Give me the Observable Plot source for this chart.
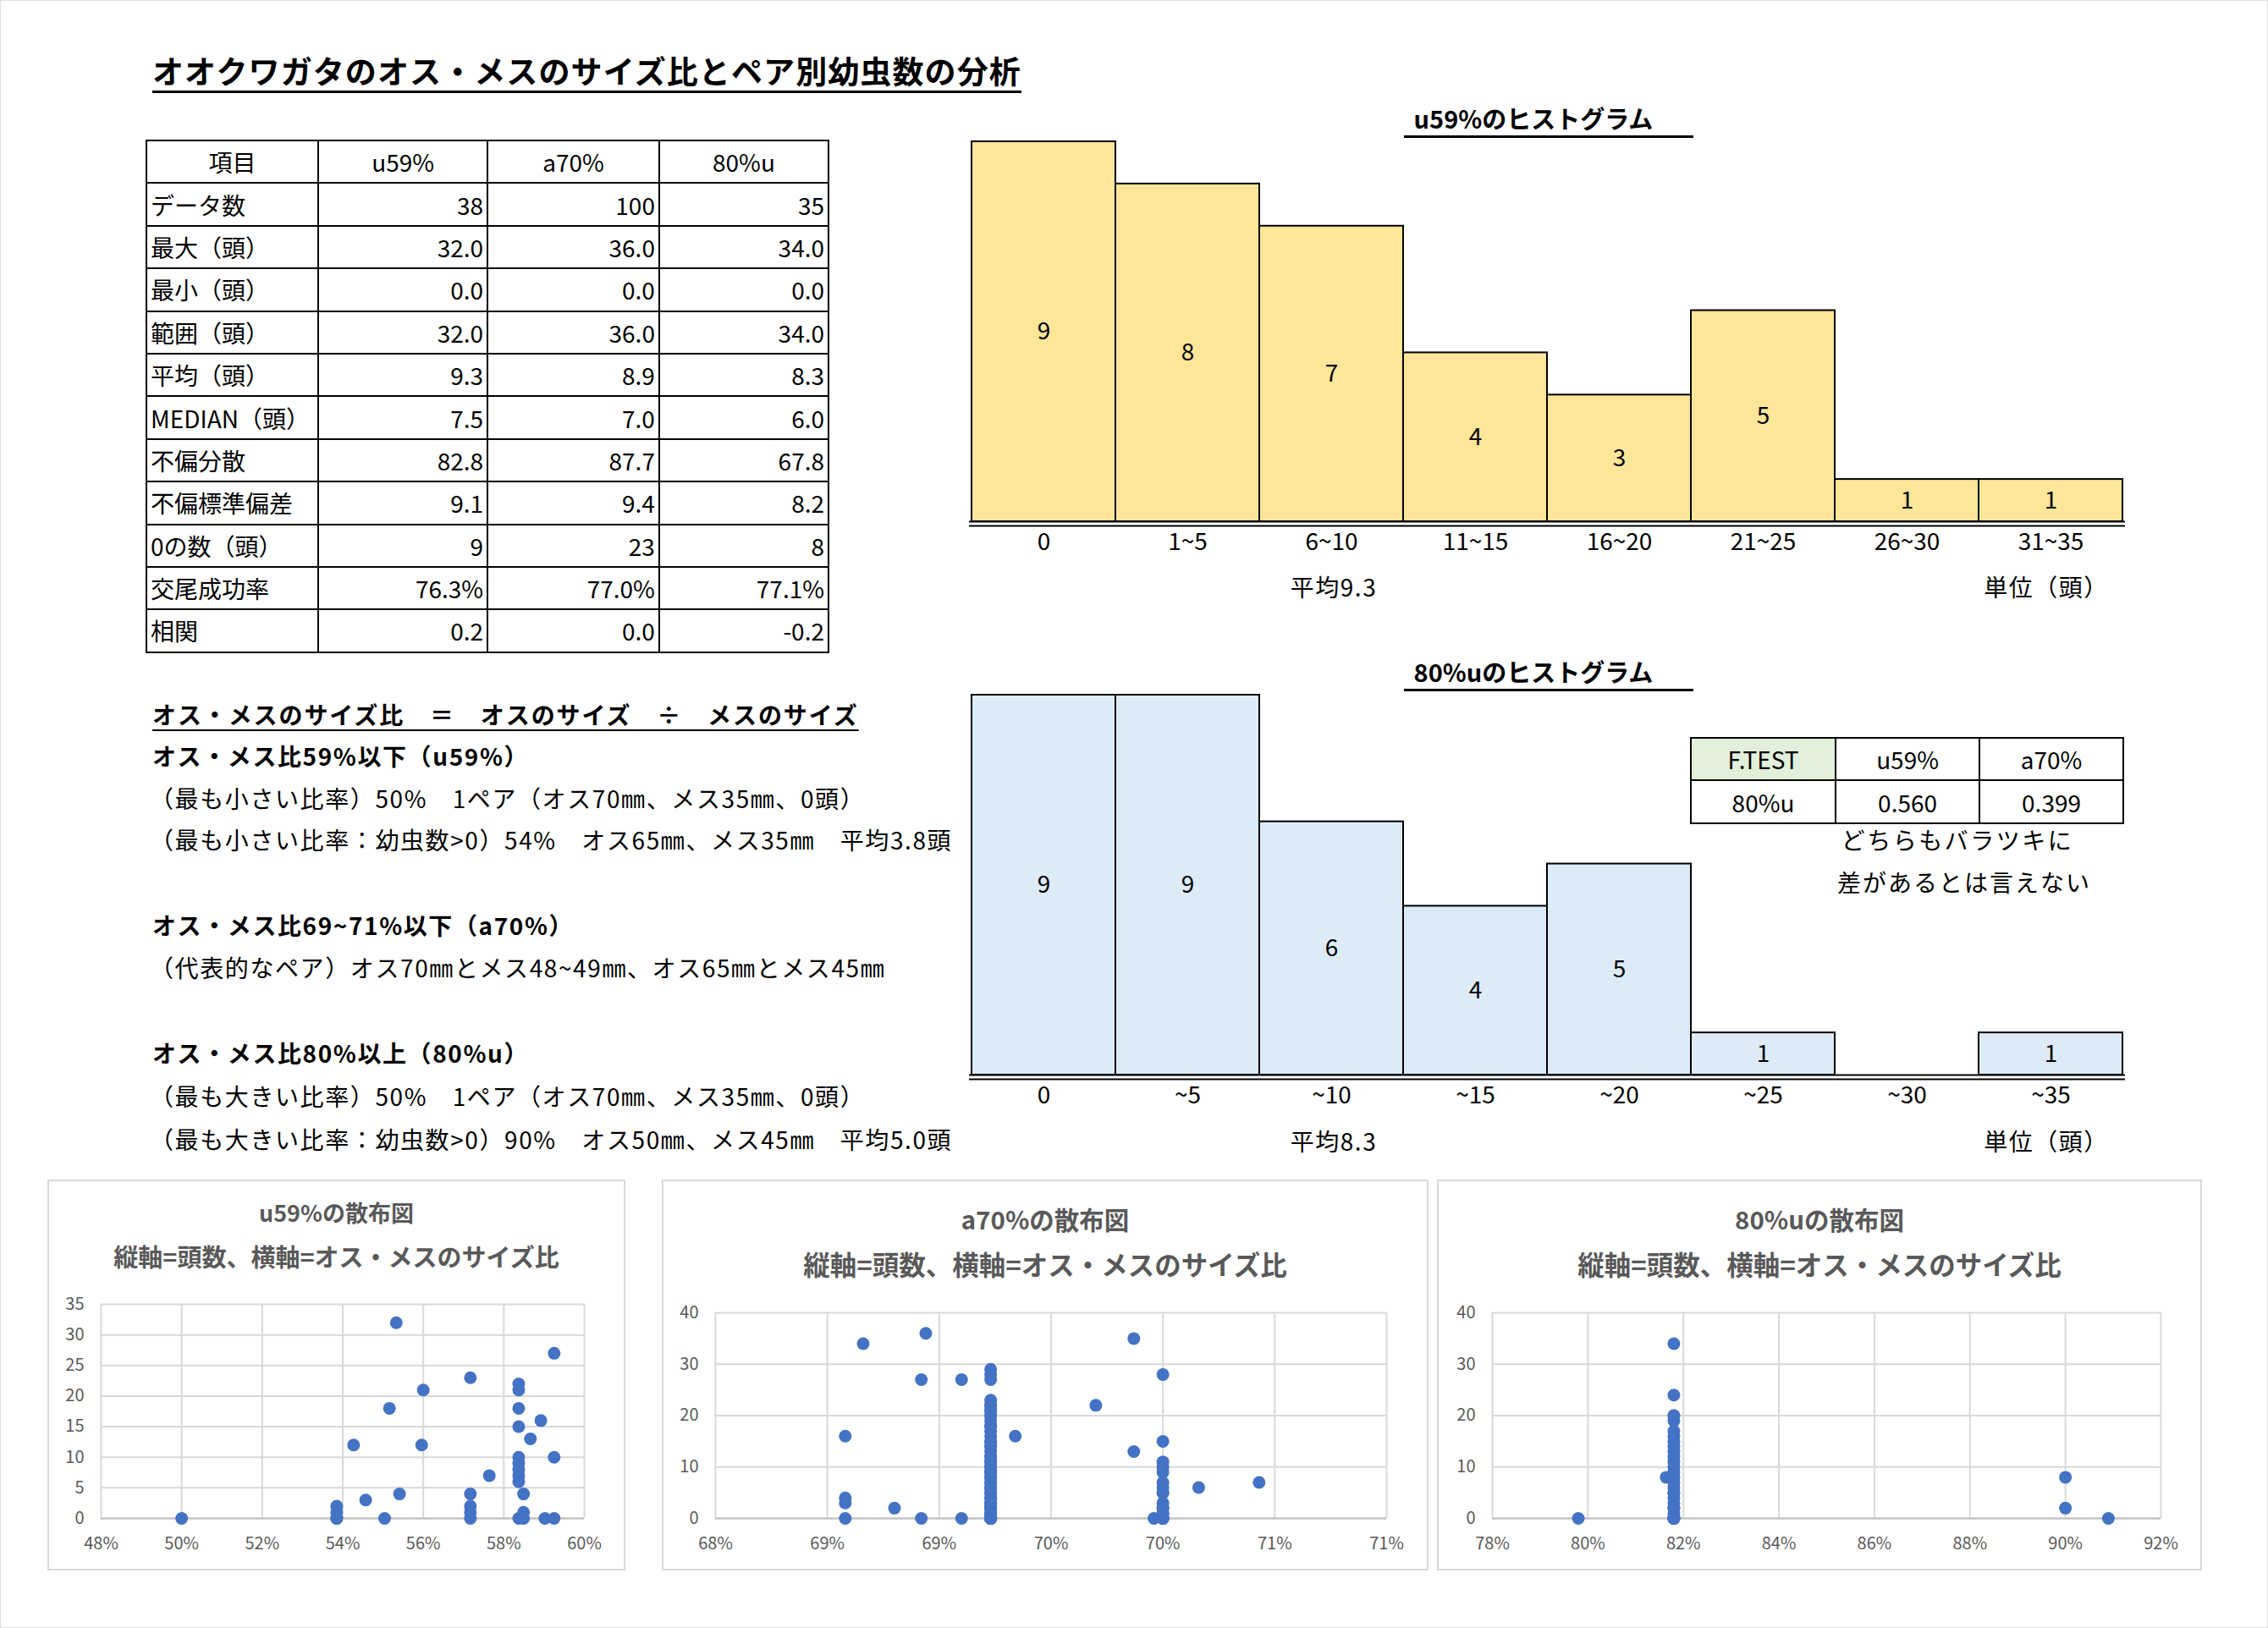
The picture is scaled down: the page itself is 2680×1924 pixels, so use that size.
<!DOCTYPE html>
<html><head><meta charset="utf-8">
<script src="https://cdn.jsdelivr.net/npm/d3@7"></script>
<script src="https://cdn.jsdelivr.net/npm/@observablehq/plot@0.6"></script>
<style>
body{margin:0;background:#fff;}
#page{position:relative;width:2678px;height:1922px;border:1px solid #e0e0e0;font-family:"Noto Sans CJK JP","Noto Sans",sans-serif;color:#000;overflow:hidden;}
.abs{position:absolute;white-space:nowrap;}
.line{height:50px;line-height:50px;font-size:28px;letter-spacing:1.6px;}
.bold{font-weight:bold;}
table.stats{position:absolute;border-collapse:collapse;font-size:28px;}
table.stats td{border:2px solid #000;height:48.4px;padding:0 4px;line-height:48px;}
.box{position:absolute;border:2px solid #d9d9d9;box-sizing:border-box;}
.stitle{position:absolute;font-weight:bold;color:#595959;text-align:center;width:700px;height:44px;line-height:44px;}
.plot{position:absolute;}
</style></head>
<body><div id="page"></div>
<script>
const FONT = '"Noto Sans CJK JP","Noto Sans",sans-serif';

// ---- data ----
const mainTitle = "オオクワガタのオス・メスのサイズ比とペア別幼虫数の分析";
const tableHeader = ["項目", "u59%", "a70%", "80%u"];
const tableRowLabels = ["データ数","最大（頭）","最小（頭）","範囲（頭）","平均（頭）","MEDIAN（頭）","不偏分散","不偏標準偏差","0の数（頭）","交尾成功率","相関"];
const tableU59 = ["38","32.0","0.0","32.0","9.3","7.5","82.8","9.1","9","76.3%","0.2"];
const tableA70 = ["100","36.0","0.0","36.0","8.9","7.0","87.7","9.4","23","77.0%","0.0"];
const table80u = ["35","34.0","0.0","34.0","8.3","6.0","67.8","8.2","8","77.1%","-0.2"];

const notes = [
  ["オス・メスのサイズ比　＝　オスのサイズ　÷　メスのサイズ", "bu"],
  ["オス・メス比59%以下（u59%）", "b"],
  ["（最も小さい比率）50%　1ペア（オス70㎜、メス35㎜、0頭）", ""],
  ["（最も小さい比率：幼虫数>0）54%　オス65㎜、メス35㎜　平均3.8頭", ""],
  ["オス・メス比69~71%以下（a70%）", "b"],
  ["（代表的なペア）オス70㎜とメス48~49㎜、オス65㎜とメス45㎜", ""],
  ["オス・メス比80%以上（80%u）", "b"],
  ["（最も大きい比率）50%　1ペア（オス70㎜、メス35㎜、0頭）", ""],
  ["（最も大きい比率：幼虫数>0）90%　オス50㎜、メス45㎜　平均5.0頭", ""]
];
const noteCenters = [843, 892, 942, 991, 1092, 1142, 1243, 1294, 1345];

const histU59Cats = ["0","1~5","6~10","11~15","16~20","21~25","26~30","31~35"];
const histU59Counts = [9,8,7,4,3,5,1,1];
const hist80uCats = ["0","~5","~10","~15","~20","~25","~30","~35"];
const hist80uCounts = [9,9,6,4,5,1,0,1];

const fTestHeader = ["F.TEST","u59%","a70%"];
const fTestRow = ["80%u","0.560","0.399"];

// scatter: ratio groups and larvae counts at each ratio
const u59Ratios = [0.500,0.5385,0.5427,0.5457,0.5504,0.5516,0.5533,0.5541,0.5596,0.5600,0.5717,0.5764,0.5837,0.5849,0.5866,0.5892,0.5902,0.5925];
const u59Larvae = [[0],[2,1,0,0],[12],[3],[0],[18],[32],[4],[12],[21],[23,4,2,1,0],[7],[22,21,18,15,10,9,8,7,6,0],[4,1,0],[13],[16],[0],[27,10,0]];

const a70Ratios = [0.6908,0.6916,0.6930,0.6942,0.6944,0.6960,0.6973,0.6984,0.7020,0.7037,0.7046,0.7050,0.7066,0.7093];
const a70Larvae = [[16,4,3,0],[34],[2],[27,0],[36],[27,0],
  [29,28,27,23,22,21,20,19,18,17,16,15,14,13,12,11,10,9,8,7,6,5,4,3,2,1,0,0,0,0,0,0,0,0,0,0,0,0,0,0,1,1,2,2,3,4,5,6,7,8,9,10,11,12,14,15,18,20,21,22,3,6,9],
  [16],[22],[35,13],[0],[28,15,11,10,9,7,6,5,3,2,1,0,0,0,0,0,1,2,5],[6],[7]];

const r80Ratios = [0.798,0.8164,0.8180,0.900,0.909];
const r80Larvae = [[0],[8],[34,24,20,19,17,16,14,13,10,9,8,7,6,5,4,3,2,1,0,0,0,0,0,0,12,11,15,20,5,2],[8,2],[0]];

const u59XTicks = [0.48,0.50,0.52,0.54,0.56,0.58,0.60];
const u59XLabels = ["48%","50%","52%","54%","56%","58%","60%"];
const a70XTicks = [0.685,0.690,0.695,0.700,0.705,0.710,0.715];
const a70XLabels = ["68%","69%","69%","70%","70%","71%","71%"];
const r80XTicks = [0.78,0.80,0.82,0.84,0.86,0.88,0.90,0.92];
const r80XLabels = ["78%","80%","82%","84%","86%","88%","90%","92%"];
const yTicks35 = [0,5,10,15,20,25,30,35];
const yTicks40 = [0,10,20,30,40];

const scatterTitles = ["u59%の散布図","a70%の散布図","80%uの散布図"];
const scatterSub = "縦軸=頭数、横軸=オス・メスのサイズ比";

// ---- helpers ----
const page = document.getElementById("page");
function addDiv(cls, text, css) {
  const d = document.createElement("div");
  d.className = cls; d.textContent = text;
  Object.assign(d.style, css);
  page.appendChild(d); return d;
}
function place(node, left, top) {
  node.classList.add("plot");
  node.style.left = left + "px"; node.style.top = top + "px";
  page.appendChild(node);
}

// title
addDiv("abs bold", mainTitle, {left:"179px", top:"57px", fontSize:"37px", letterSpacing:"1.1px", lineHeight:"50px", textDecoration:"underline", textUnderlineOffset:"8px", textDecorationThickness:"3px"});

// stats table
const tbl = document.createElement("table");
tbl.className = "stats";
Object.assign(tbl.style, {left:"171px", top:"164px", width:"808px"});
const colW = [202, 201, 204, 201];
{
  const tr = tbl.insertRow();
  tableHeader.forEach((h, i) => { const td = tr.insertCell(); td.textContent = h; td.style.textAlign = "center"; td.style.width = colW[i] + "px"; });
  tableRowLabels.forEach((lab, r) => {
    const row = tbl.insertRow();
    [lab, tableU59[r], tableA70[r], table80u[r]].forEach((v, i) => {
      const td = row.insertCell(); td.textContent = v; td.style.textAlign = i === 0 ? "left" : "right";
    });
  });
}
page.appendChild(tbl);

// notes
notes.forEach(([t, s], i) => {
  const css = {left: (s.includes("b") ? 179 : 176) + "px", top: (noteCenters[i] - 25) + "px"};
  if (s.includes("u")) Object.assign(css, {textDecoration:"underline", textUnderlineOffset:"6px", textDecorationThickness:"2px", letterSpacing:"1.9px"});
  addDiv("abs line" + (s.includes("b") ? " bold" : ""), t, css);
});

// histograms
function hist(cats, counts, fill) {
  const data = cats.map((c, i) => ({c, n: counts[i]}));
  return Plot.plot({
    width: 1368, height: 505, marginLeft: 1, marginRight: 1, marginTop: 6, marginBottom: 50,
    x: {domain: cats, padding: 0, label: null, tickSize: 0, tickPadding: 14},
    y: {domain: [0, 9], axis: null},
    style: {fontFamily: FONT, fontSize: "28px", color: "#000", background: "transparent", overflow: "visible"},
    marks: [
      Plot.barY(data, {x: "c", y: "n", fill, stroke: "#000", strokeWidth: 2}),
      Plot.text(data.filter(d => d.n > 0), {x: "c", y: d => d.n / 2, text: d => String(d.n), fontSize: 28, fill: "#000"}),
      Plot.ruleY([0], {stroke: "#000", strokeWidth: 2}),
      Plot.ruleY([0], {stroke: "#000", strokeWidth: 2, dy: 5})
    ]
  });
}
function histTitle(text, top) {
  addDiv("abs bold", text, {left:"1658px", top: top + "px", width:"342px", height:"48px", lineHeight:"48px", fontSize:"29px", textAlign:"center", borderBottom:"3px solid #000", paddingRight:"36px", boxSizing:"border-box"});
}
const smallCss = {width:"220px", textAlign:"center", fontSize:"28px", letterSpacing:"1.5px", lineHeight:"40px"};
histTitle("u59%のヒストグラム", 114);
place(hist(histU59Cats, histU59Counts, "#FFE699"), 1143, 160);
addDiv("abs", "平均9.3", Object.assign({left:"1465px", top:"672px"}, smallCss));
addDiv("abs", "単位（頭）", Object.assign({left:"2307px", top:"672px"}, smallCss));

histTitle("80%uのヒストグラム", 768);
place(hist(hist80uCats, hist80uCounts, "#DDEBF7"), 1143, 814);
addDiv("abs", "平均8.3", Object.assign({left:"1465px", top:"1327px"}, smallCss));
addDiv("abs", "単位（頭）", Object.assign({left:"2307px", top:"1327px"}, smallCss));

// F.TEST table
const ft = document.createElement("table");
ft.className = "stats";
Object.assign(ft.style, {left:"1996px", top:"870px", width:"513px", background:"#fff"});
[fTestHeader, fTestRow].forEach((row, r) => {
  const tr = ft.insertRow();
  row.forEach((v, i) => { const td = tr.insertCell(); td.textContent = v; td.style.textAlign = "center"; td.style.width = "170px"; if (r === 0 && i === 0) td.style.background = "#E2EFDA"; });
});
page.appendChild(ft);
addDiv("abs", "どちらもバラツキに", {left:"2112px", width:"400px", textAlign:"center", top:"971px", fontSize:"28px", letterSpacing:"2.5px", lineHeight:"40px"});
addDiv("abs", "差があるとは言えない", {left:"2120px", width:"400px", textAlign:"center", top:"1021px", fontSize:"28px", letterSpacing:"2px", lineHeight:"40px"});

// scatters
function flatten(ratios, larvae) {
  return ratios.flatMap((r, i) => larvae[i].map(n => ({r, n})));
}
function scatter(data, o) {
  return Plot.plot({
    width: o.width, height: o.height, marginLeft: o.ml, marginRight: o.mr, marginTop: 20, marginBottom: o.height - 20 - o.ph,
    x: {domain: [o.xTicks[0], o.xTicks[o.xTicks.length - 1]]},
    y: {domain: [0, o.yTicks[o.yTicks.length - 1]]},
    style: {fontFamily: FONT, fontSize: "20px", color: "#595959", background: "transparent", overflow: "visible"},
    marks: [
      Plot.gridX(o.xTicks, {stroke: "#d9d9d9", strokeOpacity: 1, strokeWidth: 2}),
      Plot.gridY(o.yTicks, {stroke: "#d9d9d9", strokeOpacity: 1, strokeWidth: 2}),
      Plot.ruleY([0], {stroke: "#bfbfbf", strokeWidth: 2}),
      Plot.axisX(o.xTicks, {tickSize: 0, tickPadding: 22, label: null, tickFormat: d => o.xLabels[o.xTicks.indexOf(d)], fill: "#595959"}),
      Plot.axisY(o.yTicks, {tickSize: 0, tickPadding: 20, label: null, fill: "#595959"}),
      Plot.dot(data, {x: "r", y: "n", r: 7.5, fill: "#4472C4", stroke: "none"})
    ]
  });
}
const boxes = [[55, 738], [781, 1687], [1697, 2601]];
const titleSizes = [[27, 29], [29.5, 31.5], [29.5, 31.5]];
boxes.forEach(([l, r], i) => {
  const b = document.createElement("div"); b.className = "box";
  Object.assign(b.style, {left: l + "px", top: "1393px", width: (r - l) + "px", height: "462px"});
  page.appendChild(b);
  const cx = (l + r) / 2;
  const tY = i === 0 ? [1432, 1483] : [1439, 1492];
  addDiv("stitle", scatterTitles[i], {left: (cx - 350) + "px", top: (tY[0] - 22) + "px", fontSize: titleSizes[i][0] + "px"});
  addDiv("stitle", scatterSub, {left: (cx - 350) + "px", top: (tY[1] - 22) + "px", fontSize: titleSizes[i][1] + "px"});
});
place(scatter(flatten(u59Ratios, u59Larvae), {width: 660, height: 318, ml: 58, mr: 31, ph: 253, xTicks: u59XTicks, xLabels: u59XLabels, yTicks: yTicks35}), 60, 1520);
place(scatter(flatten(a70Ratios, a70Larvae), {width: 887, height: 308, ml: 54, mr: 40, ph: 243, xTicks: a70XTicks, xLabels: a70XLabels, yTicks: yTicks40}), 790, 1530);
place(scatter(flatten(r80Ratios, r80Larvae), {width: 886, height: 308, ml: 56, mr: 40, ph: 243, xTicks: r80XTicks, xLabels: r80XLabels, yTicks: yTicks40}), 1706, 1530);
</script>
</body></html>
